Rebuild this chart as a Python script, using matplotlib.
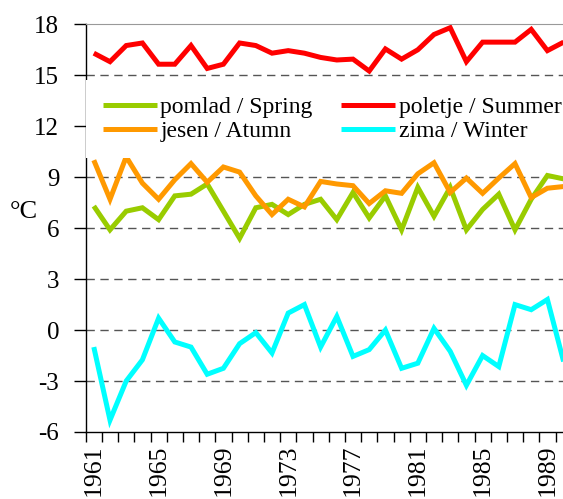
import numpy as np
from matplotlib import pyplot as plt

years = np.arange(1961, 1991)

spring = [7.3, 5.9, 7.0, 7.2, 6.5, 7.9, 8.0, 8.6, 7.0, 5.4,
          7.2, 7.4, 6.8, 7.4, 7.7, 6.5, 8.1, 6.6, 7.9, 5.9,
          8.4, 6.7, 8.4, 5.9, 7.1, 8.0, 5.9, 7.7, 9.1, 8.9]
summer = [16.3, 15.8, 16.75, 16.9, 15.65, 15.65, 16.75, 15.4, 15.65, 16.9,
          16.75, 16.3, 16.45, 16.3, 16.05, 15.9, 15.95, 15.25, 16.55, 15.95,
          16.5, 17.4, 17.8, 15.8, 16.95, 16.95, 16.95, 17.7, 16.45, 16.95]
autumn = [10.0, 7.7, 10.2, 8.65, 7.7, 8.85, 9.8, 8.7, 9.6, 9.3,
          7.9, 6.8, 7.7, 7.25, 8.75, 8.6, 8.5, 7.45, 8.2, 8.05,
          9.2, 9.85, 8.1, 8.95, 8.05, 8.95, 9.8, 7.8, 8.35, 8.45]
winter = [-1.0, -5.3, -3.0, -1.75, 0.7, -0.7, -1.0, -2.6, -2.25, -0.8,
          -0.15, -1.35, 1.0, 1.5, -1.0, 0.8, -1.55, -1.15, 0.0, -2.25,
          -1.95, 0.1, -1.25, -3.25, -1.5, -2.15, 1.5, 1.2, 1.8, -1.85]

labels = ["pomlad / Spring", "poletje / Summer", "jesen / Atumn", "zima / Winter"]
colors = ["#99CC00", "#FF0000", "#FF9900", "#00FFFF"]

plt.rcParams['font.family'] = ['Liberation Serif', 'DejaVu Serif']
plt.rcParams['axes.unicode_minus'] = False

fig = plt.figure(figsize=(5.63, 4.99), dpi=100)
ax = fig.add_axes([85.7/563, 67/499, 486/563, 407.7/499])

lines = []
for vals, lab, col in zip([spring, summer, autumn, winter], labels, colors):
    l, = ax.plot(years, vals, color=col, linewidth=3.6, label=lab,
                 solid_joinstyle='miter', solid_capstyle='butt')
    lines.append(l)

ax.set_xlim(1960.5, 1990.5)
ax.set_ylim(-6, 18)
ax.set_yticks(np.arange(-6, 19, 3))
for v in range(-3, 18, 3):
    ax.axhline(v, color="#555555", linewidth=1, linestyle=(0, (6, 4)), zorder=0)

ax.set_xticks(np.arange(1960.5, 1991, 1))
ax.set_xticklabels([])
ax.set_xticks(years[::4], minor=True)
ax.set_xticklabels([str(y) for y in years[::4]], minor=True, rotation=90, fontsize=18.5)
ax.tick_params(axis='x', which='major', direction='out', length=7, width=1)
ax.tick_params(axis='x', which='minor', length=0, pad=9)
ax.tick_params(axis='y', direction='out', length=9, width=1, labelsize=18, pad=10)

ax.spines['right'].set_visible(False)
ax.spines['top'].set_color("#999999")
ax.spines['left'].set_linewidth(1)
ax.spines['bottom'].set_linewidth(1)

fig.text(24/563, 1 - 212/499, "°C", fontsize=19, ha='center', va='center')

order = [0, 2, 1, 3]
leg = ax.legend([lines[i] for i in order], [labels[i] for i in order], ncol=2,
                frameon=True, fontsize=17, handlelength=2.3, handletextpad=0.15,
                columnspacing=1.2, labelspacing=0.1, borderpad=0.7,
                borderaxespad=0, loc='upper left',
                bbox_to_anchor=(86/563, 1 - 80/499),
                bbox_transform=fig.transFigure)
leg.get_frame().set_facecolor('white')
leg.get_frame().set_edgecolor('none')
leg.get_frame().set_alpha(1)
leg.get_frame().set_boxstyle('square', pad=0)

fig.savefig("out.png", dpi=100)
